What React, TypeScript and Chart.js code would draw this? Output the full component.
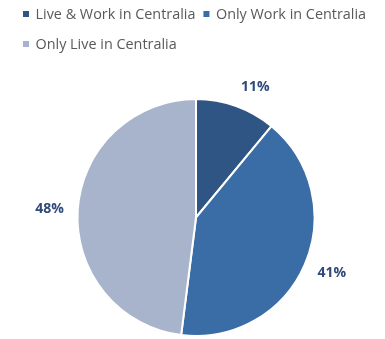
import React, { useEffect, useRef } from "react";
import { Chart, registerables } from "chart.js";

Chart.register(...registerables);

const categories = ["Live & Work in Centralia", "Only Work in Centralia", "Only Live in Centralia"];
const shares = [11, 41, 48];
const sliceColors = ["#2F5585", "#3A6CA6", "#A7B4CB"];

const legendFont = '14.4px "Open Sans"';
const labelFont = 'bold 14px "Open Sans"';

const customLegend = {
  id: "customLegend",
  afterDraw(chart: any) {
    const ctx = chart.ctx;
    ctx.save();
    ctx.font = legendFont;
    ctx.textBaseline = "middle";
    ctx.textAlign = "left";
    let x = 23;
    let y = 14;
    const box = 6;
    const maxX = chart.width - 10;
    chart.data.labels.forEach((lab: string, i: number) => {
      const tw = ctx.measureText(lab).width;
      const w = box + 6.5 + tw;
      if (x > 23 && x + w > maxX) {
        x = 23;
        y += 30;
      }
      ctx.fillStyle = chart.data.datasets[0].backgroundColor[i];
      ctx.fillRect(x, y - box / 2, box, box);
      ctx.fillStyle = "#595959";
      ctx.fillText(lab, x + box + 6.5, y + 0.5);
      x += w + 8;
    });
    ctx.restore();
  },
};

const outsideLabels = {
  id: "outsideLabels",
  afterDatasetsDraw(chart: any) {
    const ctx = chart.ctx;
    const meta = chart.getDatasetMeta(0);
    ctx.save();
    ctx.font = labelFont;
    ctx.fillStyle = "#2E4A7A";
    ctx.textAlign = "center";
    ctx.textBaseline = "middle";
    const gap = 14;
    meta.data.forEach((arc: any, i: number) => {
      const { x, y, startAngle, endAngle, outerRadius } = arc.getProps(
        ["x", "y", "startAngle", "endAngle", "outerRadius"],
        true
      );
      const mid = (startAngle + endAngle) / 2;
      const c = Math.cos(mid);
      const s = Math.sin(mid);
      const text = shares[i] + "%";
      const tw = ctx.measureText(text).width;
      const th = 13;
      const ax = x + (outerRadius + gap) * c;
      const ay = y + (outerRadius + gap) * s;
      const cx = ax + (tw / 2) * Math.sign(c);
      const cy = ay + (th / 2) * s;
      ctx.fillText(text, cx, cy);
    });
    ctx.restore();
  },
};

export default function App() {
  const ref = useRef<HTMLCanvasElement>(null);
  useEffect(() => {
    document.body.style.margin = "0";
    const chart = new Chart(ref.current as HTMLCanvasElement, {
      type: "pie",
      data: {
        labels: categories,
        datasets: [
          {
            data: shares,
            backgroundColor: sliceColors,
            borderColor: "#FFFFFF",
            borderWidth: 2,
          },
        ],
      },
      options: {
        animation: false,
        responsive: false,
        maintainAspectRatio: false,
        layout: { padding: { top: 98, bottom: 2, left: 7, right: 0 } },
        plugins: {
          legend: { display: false },
          tooltip: { enabled: false },
        },
      },
      plugins: [customLegend, outsideLabels],
    });
    return () => chart.destroy();
  }, []);
  return (
    <div style={{ width: 385, height: 339, background: "#fff" }}>
      <canvas ref={ref} width={385} height={339} />
    </div>
  );
}
